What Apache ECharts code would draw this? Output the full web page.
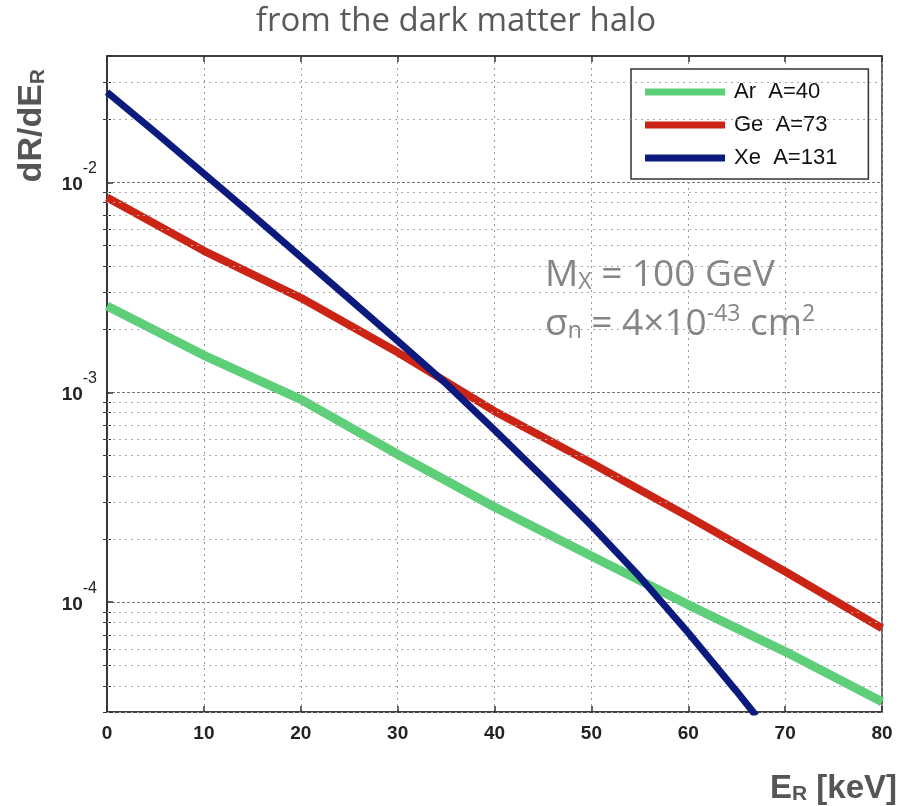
<!DOCTYPE html>
<html>
<head>
<meta charset="utf-8">
<script src="https://cdn.jsdelivr.net/npm/echarts@6/dist/echarts.min.js"></script>
<style>
  html, body { margin: 0; padding: 0; background: #fff; }
  #chart { width: 912px; height: 806px; }
</style>
</head>
<body>
<div id="chart"></div>
<script>
// recoil energy (keV) and rates
var arE = [0, 10, 20, 30, 40, 50, 60, 70, 80];
var arRate = [2.58e-3, 1.50e-3, 9.25e-4, 5.07e-4, 2.84e-4, 1.66e-4, 9.72e-5, 5.82e-5, 3.36e-5];

var geE = [0, 10, 20, 30, 40, 50, 60, 70, 80];
var geRate = [8.47e-3, 4.72e-3, 2.82e-3, 1.55e-3, 8.13e-4, 4.61e-4, 2.56e-4, 1.40e-4, 7.52e-5];

var xeE = [0, 5, 10, 15, 20, 25, 30, 35, 40, 45, 50, 55, 60, 65, 67];
var xeRate = [2.69e-2, 1.73e-2, 1.10e-2, 7.00e-3, 4.42e-3, 2.79e-3, 1.76e-3, 1.10e-3,
    6.61e-4, 3.94e-4, 2.32e-4, 1.32e-4, 7.16e-5, 3.76e-5, 2.88e-5];

var seriesNames = ['Ar  A=40', 'Ge  A=73', 'Xe  A=131'];
var xMin = 0, xMax = 80;
var yMin = 3e-5, yMax = 0.04;

// minor log grid lines: 2..9 x 10^n inside the range
var minorVals = [];
for (var p = -5; p <= -2; p++) {
    for (var k = 2; k <= 9; k++) {
        var v = k * Math.pow(10, p);
        if (v > yMin && v < yMax) minorVals.push(v);
    }
}
var minorGrid = minorVals.map(function (v) {
    return [{ coord: [xMin, v] }, { coord: [xMax, v] }];
});

function pairs(xs, ys) {
    return xs.map(function (x, i) { return [x, ys[i]]; });
}

function isPow10(v) {
    var l = Math.log10(v);
    return Math.abs(l - Math.round(l)) < 1e-6;
}

var sans = '"Liberation Sans", Arial, sans-serif';
var light = '"Open Sans", sans-serif';
var noteGrey = '#858585';

// frame-only log axis with small inward ticks at the minor values
function frameAxis(pos) {
    return {
        type: 'log',
        logBase: 10,
        min: yMin,
        max: yMax,
        position: pos,
        axisLine: { show: pos === 'right', lineStyle: { color: '#333', width: 1.5 } },
        axisTick: { show: true, inside: true, length: 4, customValues: minorVals, lineStyle: { color: '#333', width: 1 } },
        axisLabel: { show: false },
        splitLine: { show: false }
    };
}

var chart = echarts.init(document.getElementById('chart'));

var option = {
    backgroundColor: '#fff',
    animation: false,
    title: {
        text: 'from the dark matter halo',
        left: 'center',
        top: 0,
        textStyle: {
            fontFamily: light,
            fontWeight: 'normal',
            fontSize: 33,
            color: '#5a5a5a'
        }
    },
    grid: {
        left: 107,
        right: 30,
        top: 56,
        bottom: 94,
        containLabel: false,
        outerBoundsMode: 'none',
        show: true,
        borderColor: '#333',
        borderWidth: 1.5,
        backgroundColor: '#fff'
    },
    legend: {
        data: seriesNames,
        orient: 'vertical',
        left: 631,
        top: 69,
        padding: [12, 31, 10, 14],
        itemWidth: 80,
        itemHeight: 7,
        itemGap: 11,
        icon: 'rect',
        backgroundColor: '#fff',
        borderColor: '#333',
        borderWidth: 1.5,
        borderRadius: 0,
        textStyle: {
            fontFamily: sans,
            fontSize: 22,
            lineHeight: 20,
            color: '#111',
            padding: [0, 0, 0, 4]
        }
    },
    xAxis: [{
        type: 'value',
        min: xMin,
        max: xMax,
        interval: 10,
        name: '{b|E}{s|R}{b| [keV]}',
        nameLocation: 'end',
        nameGap: 15,
        nameTextStyle: {
            align: 'right',
            verticalAlign: 'top',
            padding: [57, 0, 0, 0],
            rich: {
                b: { fontFamily: sans, fontWeight: 'bold', fontSize: 33, color: '#555', verticalAlign: 'bottom', lineHeight: 36 },
                s: { fontFamily: sans, fontWeight: 'bold', fontSize: 21, color: '#555', verticalAlign: 'bottom', lineHeight: 32 }
            }
        },
        axisLine: { show: true, lineStyle: { color: '#333', width: 1.5 } },
        axisTick: { show: true, inside: true, length: 6, lineStyle: { color: '#333', width: 1.5 } },
        axisLabel: {
            margin: 12,
            fontFamily: sans,
            fontWeight: 'bold',
            fontSize: 19,
            color: '#222'
        },
        splitLine: { show: true, lineStyle: { color: '#999', type: [2, 4], width: 1 } }
    }, {
        type: 'value',
        position: 'top',
        min: xMin,
        max: xMax,
        interval: 10,
        axisLine: { show: true, lineStyle: { color: '#333', width: 1.5 } },
        axisTick: { show: true, inside: true, length: 6, lineStyle: { color: '#333', width: 1.5 } },
        axisLabel: { show: false },
        splitLine: { show: false }
    }],
    yAxis: [{
        type: 'log',
        logBase: 10,
        min: yMin,
        max: yMax,
        name: '{b|dR/dE}{s|R}',
        nameLocation: 'end',
        nameRotate: 90,
        nameGap: -13,
        nameTextStyle: {
            align: 'right',
            verticalAlign: 'bottom',
            padding: [0, 0, 58, 0],
            rich: {
                b: { fontFamily: sans, fontWeight: 'bold', fontSize: 34, color: '#555', verticalAlign: 'bottom', lineHeight: 36 },
                s: { fontFamily: sans, fontWeight: 'bold', fontSize: 21, color: '#555', verticalAlign: 'bottom', lineHeight: 32 }
            }
        },
        axisLine: { show: true, lineStyle: { color: '#333', width: 1.5 } },
        axisTick: { show: true, inside: true, length: 6, lineStyle: { color: '#333', width: 1.5 } },
        axisLabel: {
            margin: 10,
            padding: [0, 0, 10, 0],
            formatter: function (v) {
                if (!isPow10(v)) return '';
                return '{b|10}{s|' + Math.round(Math.log10(v)) + '}';
            },
            rich: {
                b: { fontFamily: sans, fontWeight: 'bold', fontSize: 19, color: '#222', verticalAlign: 'bottom', lineHeight: 34 },
                s: { fontFamily: sans, fontSize: 16, color: '#222', verticalAlign: 'top', lineHeight: 34 }
            }
        },
        splitLine: { show: true, lineStyle: { color: '#777', type: [3, 2], width: 1 } }
    }, frameAxis('right'), frameAxis('left')],
    graphic: [{
        type: 'text',
        left: 545,
        top: 257,
        z: 1,
        style: {
            text: '{t|M}{s|X}{t| = 100 GeV}',
            rich: {
                t: { fontFamily: light, fontSize: 37, fill: noteGrey, verticalAlign: 'bottom', lineHeight: 40 },
                s: { fontFamily: light, fontSize: 23, fill: noteGrey, verticalAlign: 'bottom', lineHeight: 32 }
            }
        }
    }, {
        type: 'text',
        left: 545,
        top: 303,
        z: 1,
        style: {
            text: '{t|σ}{s|n}{t| = 4×10}{p|-43}{t| cm}{p|2}',
            rich: {
                t: { fontFamily: light, fontSize: 37, fill: noteGrey, verticalAlign: 'bottom', lineHeight: 40 },
                s: { fontFamily: light, fontSize: 23, fill: noteGrey, verticalAlign: 'bottom', lineHeight: 32 },
                p: { fontFamily: light, fontSize: 23, fill: noteGrey, verticalAlign: 'top', lineHeight: 40 }
            }
        }
    }],
    series: [{
        name: seriesNames[0],
        type: 'line',
        data: pairs(arE, arRate),
        showSymbol: false,
        color: '#5ccf78',
        lineStyle: { width: 9, color: '#5ccf78' },
        markLine: {
            silent: true,
            symbol: 'none',
            label: { show: false },
            lineStyle: { color: '#aaa', type: [2, 4], width: 1 },
            data: minorGrid
        },
        z: 3
    }, {
        name: seriesNames[1],
        type: 'line',
        data: pairs(geE, geRate),
        showSymbol: false,
        color: '#cc2414',
        lineStyle: { width: 8, color: '#cc2414' },
        z: 4
    }, {
        name: seriesNames[2],
        type: 'line',
        data: pairs(xeE, xeRate),
        showSymbol: false,
        color: '#0c1a7e',
        lineStyle: { width: 7, color: '#0c1a7e' },
        z: 5
    }]
};

chart.setOption(option);
</script>
</body>
</html>
